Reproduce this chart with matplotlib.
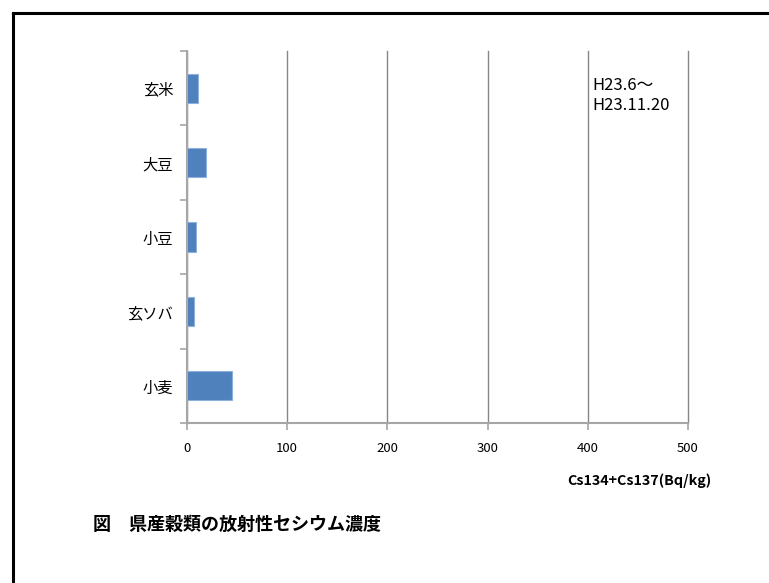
import numpy as np
import matplotlib
matplotlib.use("Agg")
import matplotlib.pyplot as plt
from matplotlib.lines import Line2D

plt.rcParams['font.family'] = ['Noto Sans CJK JP', 'DejaVu Sans']

# donnees
categories = ["玄米", "大豆", "小豆", "玄ソバ", "小麦"]
valeurs = [11, 19, 9, 6.5, 44.5]
x_ticks = [0, 100, 200, 300, 400, 500]

fig = plt.figure(figsize=(7.69, 5.83), dpi=100)
ax = fig.add_axes([187/769, 1 - 423/583, (688 - 187)/769, (423 - 51)/583])

pos = np.arange(len(categories))
ax.barh(pos, valeurs, height=0.39, color='#4F81BD', edgecolor='#8DB0DC',
        linewidth=0.8, zorder=3)

ax.set_xlim(0, 500)
ax.set_ylim(len(categories) - 0.5, -0.5)
ax.set_xticks(x_ticks)
ax.set_xticklabels([str(v) for v in x_ticks], fontsize=9.5)
ax.set_yticks(pos)
ax.set_yticklabels(categories, fontsize=11)
ax.set_yticks(np.arange(len(categories) + 1) - 0.5, minor=True)
ax.tick_params(axis='y', which='major', length=0, pad=10)
ax.tick_params(axis='y', which='minor', length=5, color='#A6A6A6', width=1.2)
ax.tick_params(axis='x', length=5, color='#A6A6A6', width=1.2, pad=9)

ax.grid(True, axis='x', color='#868686', linewidth=1.0, zorder=0)
for gl in ax.get_xgridlines():
    gl.set_clip_on(False)
for s in ['top', 'right']:
    ax.spines[s].set_visible(False)
for s in ['left', 'bottom']:
    ax.spines[s].set_color('#A6A6A6')
    ax.spines[s].set_linewidth(1.5)

ax.text(0.81, 0.93, "H23.6〜\nH23.11.20", transform=ax.transAxes,
        fontsize=12, va='top', ha='left', linespacing=1.2)

fig.text(712/769, 1 - 481/583, "Cs134+Cs137(Bq/kg)", fontsize=10.3,
         fontweight='bold', ha='right', va='center')
fig.text(93/769, 1 - 524/583, "図　県産穀類の放射性セシウム濃度", fontsize=13,
         fontweight='bold', ha='left', va='center')

# cadre noir (coupe a droite et en bas)
fig.add_artist(Line2D([12.5/769, 12.5/769], [0, 1 - 13/583], color='black',
                      linewidth=2.2, transform=fig.transFigure))
fig.add_artist(Line2D([12.5/769, 1], [1 - 13/583, 1 - 13/583], color='black',
                      linewidth=2.2, transform=fig.transFigure))

plt.savefig('out.png', dpi=100)
